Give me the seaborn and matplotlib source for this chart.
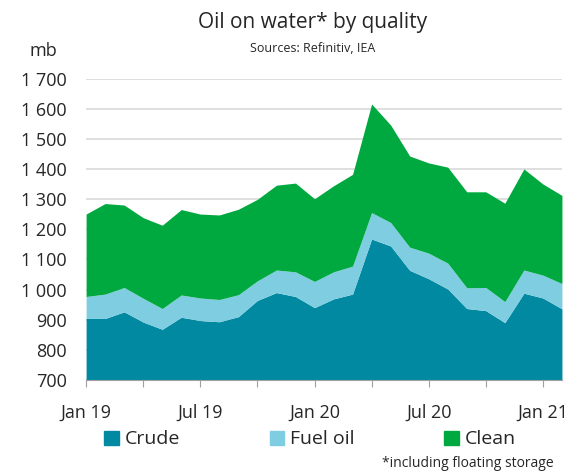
import matplotlib
matplotlib.use("Agg")
import matplotlib.pyplot as plt
import matplotlib.patches as mpatches
import seaborn as sns
import pandas as pd

# monthly values, Jan 2019 - Feb 2021 (mb)
months = pd.date_range("2019-01-01", "2021-02-01", freq="MS")
crude = [904, 904, 926, 892, 868, 908, 897, 893, 910, 964, 990, 977,
         940, 969, 985, 1168, 1145, 1064, 1036, 1002, 937, 930, 890, 988, 972, 936]
fuel_top = [977, 985, 1007, 971, 937, 982, 972, 967, 983, 1029, 1065, 1059,
            1027, 1059, 1078, 1256, 1223, 1141, 1121, 1088, 1006, 1007, 960, 1065, 1048, 1020]
total = [1251, 1286, 1281, 1239, 1214, 1266, 1251, 1248, 1267, 1300, 1347, 1354,
         1302, 1345, 1383, 1617, 1547, 1444, 1421, 1407, 1325, 1325, 1287, 1401, 1351, 1313]

fuel_oil = [f - c for f, c in zip(fuel_top, crude)]
clean = [t - f for t, f in zip(total, fuel_top)]

series_names = ["Crude", "Fuel oil", "Clean"]
colors = ["#0089a0", "#7fcde0", "#00a93f"]

xtick_labels = ["Jan 19", "Jul 19", "Jan 20", "Jul 20", "Jan 21"]
yticks = list(range(700, 1701, 100))

df = pd.DataFrame({"Crude": crude, "Fuel oil": fuel_oil, "Clean": clean})
df["idx"] = range(len(months))

sns.set_style("white")
plt.rcParams["font.family"] = ["Open Sans", "DejaVu Sans"]

fig = plt.figure(figsize=(5.74, 4.73), dpi=100)
ax = fig.add_axes([0.15, 0.197, 0.829, 0.636])

ax.stackplot(df["idx"], [df[n] for n in series_names], colors=colors, lw=0)

ax.set_xlim(0, len(months) - 1)
ax.set_ylim(700, 1700)
ax.set_yticks(yticks)
ax.set_yticklabels([f"{v:,}".replace(",", " ") for v in yticks], fontsize=13)
ax.yaxis.grid(True, color="#d9d9d9", lw=1.2)
ax.set_axisbelow(True)
ax.tick_params(axis="y", length=0, pad=14)

ax.set_xticks(range(0, 25, 3))
ax.set_xticklabels([xtick_labels[i // 2] if i % 2 == 0 else "" for i in range(9)], fontsize=13)
ax.tick_params(axis="x", length=5, color="#a0a0a0", pad=12, direction="out", bottom=True)

sns.despine(ax=ax, left=True)
ax.spines["bottom"].set_color("#a0a0a0")

fig.text(0.545, 0.953, "Oil on water* by quality", ha="center", va="center", fontsize=15)
fig.text(0.545, 0.898, "Sources: Refinitiv, IEA", ha="center", va="center", fontsize=9)
fig.text(0.075, 0.893, "mb", ha="center", va="center", fontsize=13)
fig.text(0.965, 0.02, "*including floating storage", ha="right", va="center", fontsize=10)

handles = [mpatches.Patch(color=c, label=n) for c, n in zip(colors, series_names)]
fig.legend(handles=handles, loc="center", bbox_to_anchor=(0.54, 0.071), ncol=3,
           frameon=False, fontsize=14, handlelength=0.75, handleheight=0.75,
           handletextpad=0.3, columnspacing=4.6)

fig.savefig("out.png", dpi=100)
